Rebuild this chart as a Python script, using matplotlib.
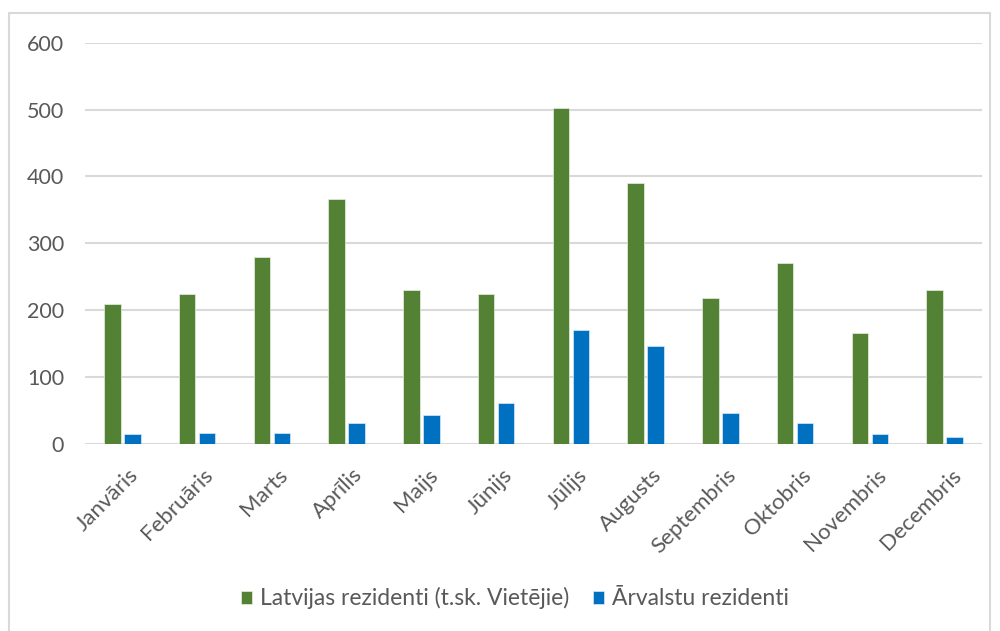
import matplotlib.pyplot as plt
import matplotlib.patches as patches
import matplotlib.transforms as mtransforms
import numpy as np

months = ["Janvāris", "Februāris", "Marts", "Aprīlis", "Maijs", "Jūnijs",
          "Jūlijs", "Augusts", "Septembris", "Oktobris", "Novembris", "Decembris"]
latvijas = [210, 224, 279, 366, 230, 224, 502, 391, 218, 270, 166, 230]
arvalstu = [15, 17, 17, 32, 44, 61, 170, 147, 46, 32, 15, 11]

green = "#548235"
blue = "#0070C0"
txt = "#595959"

plt.rcParams["font.family"] = ["Lato", "DejaVu Sans"]

fig = plt.figure(figsize=(10, 6.31), dpi=100)
ax = fig.add_axes([0.085, 0.2963, 0.897, 0.636])

x = np.arange(len(months))
w = 0.22
gap = 0.05
ax.bar(x - (w + gap) / 2, latvijas, w, color=green, edgecolor="#e8efe3", linewidth=0.5,
       label="Latvijas rezidenti (t.sk. Vietējie)", zorder=3)
ax.bar(x + (w + gap) / 2, arvalstu, w, color=blue, edgecolor="#dbe9f5", linewidth=0.5,
       label="Ārvalstu rezidenti", zorder=3)

ax.set_xlim(-0.5, len(months) - 0.5)
ax.set_ylim(0, 600)
ax.set_yticks(range(0, 601, 100))
ax.grid(axis="y", color="#d9d9d9", linewidth=1.5, zorder=0)
for s in ax.spines.values():
    s.set_visible(False)
ax.tick_params(length=0, colors=txt, labelsize=15.5)
ax.tick_params(axis="y", pad=15)
ax.set_xticks(x)
ax.set_xticklabels(months, rotation=45, ha="right", rotation_mode="anchor")
ax.tick_params(axis="x", labelsize=16, pad=15)
shift = mtransforms.ScaledTranslation(6 / 100, 0, fig.dpi_scale_trans)
for lab in ax.get_xticklabels():
    lab.set_transform(lab.get_transform() + shift)

fig.legend(loc="center", bbox_to_anchor=(0.515, 0.052), ncol=2, frameon=False,
           fontsize=16.5, labelcolor=txt, handlelength=0.5, handleheight=0.5,
           handletextpad=0.35, columnspacing=1.0)

# light border round the chart area
fig.patches.append(patches.Rectangle((0.009, -0.01), 0.981, 0.99, transform=fig.transFigure,
                                     fill=False, edgecolor="#d9d9d9", linewidth=1.5))

plt.savefig("out.png", dpi=100)
